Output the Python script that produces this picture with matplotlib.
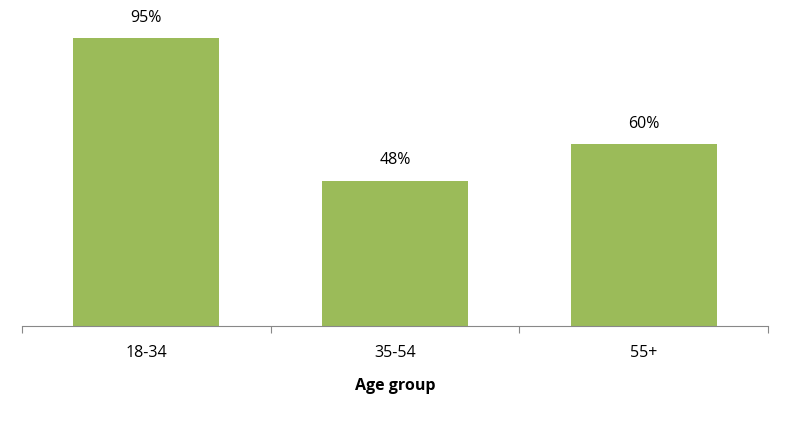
import numpy as np
from matplotlib import pyplot as plt

plt.rcParams['font.family'] = ['Open Sans', 'DejaVu Sans']

age_groups = ['18-34', '35-54', '55+']
shares = [95, 48, 60]

fig = plt.figure(figsize=(7.91, 4.24), dpi=100)
ax = fig.add_axes([22 / 791, 1 - 326 / 424, (768 - 22) / 791, 326 / 424])

x = np.arange(len(age_groups))
bars = ax.bar(x, shares, width=0.587, color='#9BBB59')
for b, v in zip(bars, shares):
    ax.text(b.get_x() + b.get_width() / 2, v + 4, '{}%'.format(v),
            ha='center', va='bottom', fontsize=11.5, color='#000000')

ax.set_xlim(-0.5, len(age_groups) - 0.5)
ax.set_ylim(0, 326 / 3.03)
ax.set_yticks([])
ax.set_xticks(np.arange(-0.5, len(age_groups)), minor=False)
ax.set_xticklabels([])
ax.set_xticks(x, minor=True)
ax.set_xticklabels(age_groups, minor=True, fontsize=11.5)
ax.tick_params(axis='x', which='major', length=5, color='#888888', direction='out')
ax.tick_params(axis='x', which='minor', length=0, pad=14)
for s in ['top', 'left', 'right']:
    ax.spines[s].set_visible(False)
ax.spines['bottom'].set_color('#888888')
ax.set_xlabel('Age group', fontsize=11.5, fontweight='bold', labelpad=12)

fig.savefig('out.png', dpi=100)
